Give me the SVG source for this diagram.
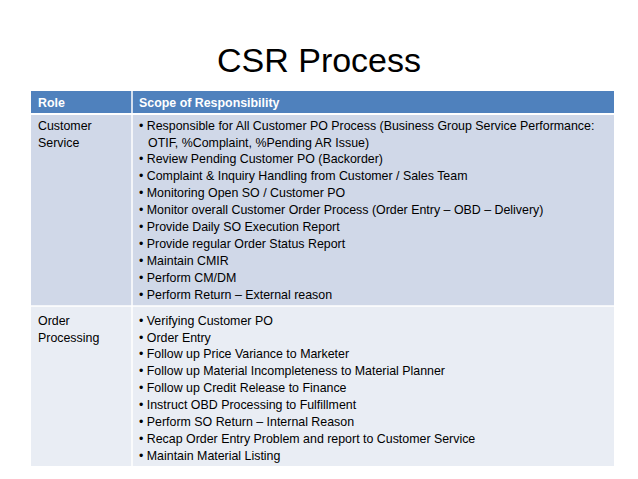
<svg xmlns="http://www.w3.org/2000/svg" width="638" height="479" viewBox="0 0 638 479">
<style>
text{font-family:"Liberation Sans",Arial,sans-serif;fill:#000;font-size:12.4px}
.h{fill:#fff;font-weight:bold}
.t{font-size:34px}
</style>
<rect width="638" height="479" fill="#fff"/>
<text class="t" x="319" y="72" text-anchor="middle">CSR Process</text>
<g id="table">
<rect x="31" y="91" width="583" height="23" fill="#4F81BD"/>
<rect x="31" y="114" width="583" height="192" fill="#D0D8E8"/>
<rect x="31" y="306" width="583" height="160" fill="#E9EDF4"/>
<line x1="31" y1="114" x2="614" y2="114" stroke="#fff" stroke-width="2"/>
<line x1="31" y1="306" x2="614" y2="306" stroke="#fff" stroke-width="1.5"/>
<line x1="132" y1="91" x2="132" y2="466" stroke="#fff" stroke-width="1.5"/>
<text class="h" x="38" y="107">Role</text>
<text class="h" x="139" y="107">Scope of Responsibility</text>
</g>
<g id="row1">
<text x="38" y="130">Customer</text>
<text x="38" y="147">Service</text>
<text x="139" y="130">• Responsible for All Customer PO Process (Business Group Service Performance:</text>
<text x="148" y="147">OTIF, %Complaint, %Pending AR Issue)</text>
<text x="139" y="163">• Review Pending Customer PO (Backorder)</text>
<text x="139" y="180">• Complaint &amp; Inquiry Handling from Customer / Sales Team</text>
<text x="139" y="197">• Monitoring Open SO / Customer PO</text>
<text x="139" y="214">• Monitor overall Customer Order Process (Order Entry – OBD – Delivery)</text>
<text x="139" y="231">• Provide Daily SO Execution Report</text>
<text x="139" y="248">• Provide regular Order Status Report</text>
<text x="139" y="265">• Maintain CMIR</text>
<text x="139" y="282">• Perform CM/DM</text>
<text x="139" y="299">• Perform Return – External reason</text>
</g>
<g id="row2">
<text x="38" y="325">Order</text>
<text x="38" y="342">Processing</text>
<text x="139" y="325">• Verifying Customer PO</text>
<text x="139" y="342">• Order Entry</text>
<text x="139" y="358">• Follow up Price Variance to Marketer</text>
<text x="139" y="375">• Follow up Material Incompleteness to Material Planner</text>
<text x="139" y="392">• Follow up Credit Release to Finance</text>
<text x="139" y="409">• Instruct OBD Processing to Fulfillment</text>
<text x="139" y="426">• Perform SO Return – Internal Reason</text>
<text x="139" y="443">• Recap Order Entry Problem and report to Customer Service</text>
<text x="139" y="460">• Maintain Material Listing</text>
</g>
</svg>
